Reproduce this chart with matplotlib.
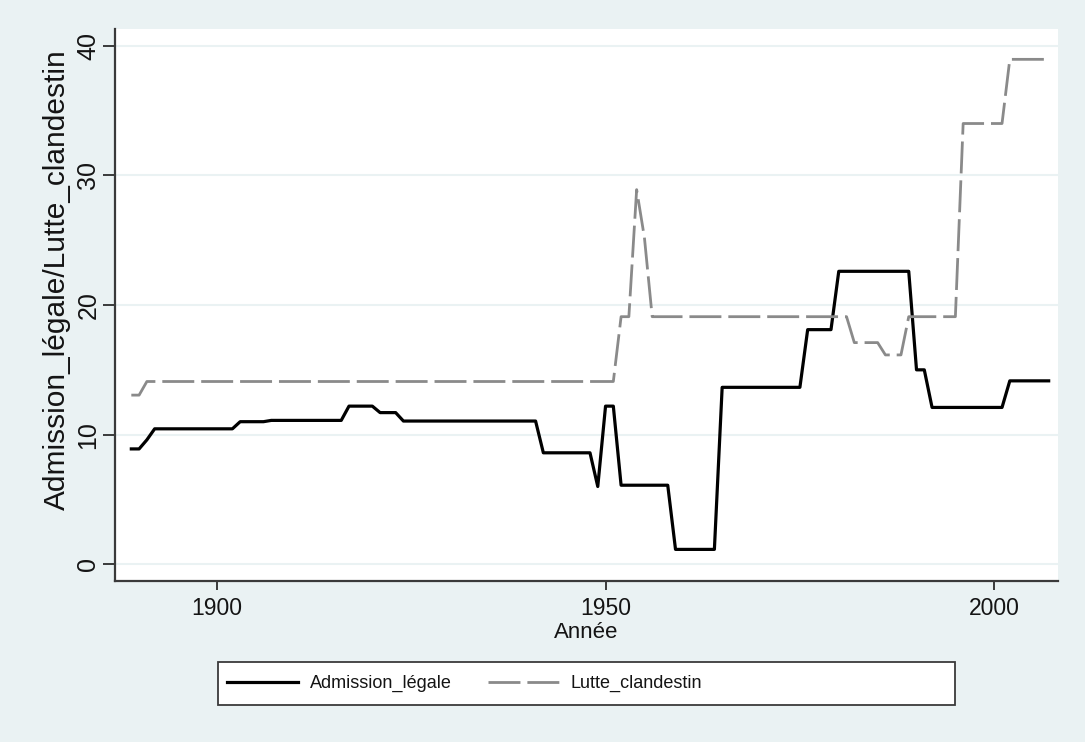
import matplotlib
matplotlib.use('Agg')
import matplotlib.pyplot as plt
from matplotlib.patches import Rectangle

years = list(range(1889, 2008))

admission_legale = [
    8.9, 8.9, 9.6, 10.45, 10.45, 10.45, 10.45, 10.45, 10.45, 10.45, 10.45,   # 1889-1899
    10.45, 10.45, 10.45, 11.0, 11.0, 11.0, 11.0, 11.1, 11.1, 11.1,            # 1900s
    11.1, 11.1, 11.1, 11.1, 11.1, 11.1, 11.1, 12.2, 12.2, 12.2,               # 1910s
    12.2, 11.7, 11.7, 11.7, 11.05, 11.05, 11.05, 11.05, 11.05, 11.05,         # 1920s
    11.05, 11.05, 11.05, 11.05, 11.05, 11.05, 11.05, 11.05, 11.05, 11.05,     # 1930s
    11.05, 11.05, 8.6, 8.6, 8.6, 8.6, 8.6, 8.6, 8.6, 6.0,                     # 1940s
    12.2, 12.2, 6.1, 6.1, 6.1, 6.1, 6.1, 6.1, 6.1, 1.15,                      # 1950s
    1.15, 1.15, 1.15, 1.15, 1.15, 13.65, 13.65, 13.65, 13.65, 13.65,          # 1960s
    13.65, 13.65, 13.65, 13.65, 13.65, 13.65, 18.1, 18.1, 18.1, 18.1,         # 1970s
    22.6, 22.6, 22.6, 22.6, 22.6, 22.6, 22.6, 22.6, 22.6, 22.6,               # 1980s
    15.0, 15.0, 12.1, 12.1, 12.1, 12.1, 12.1, 12.1, 12.1, 12.1,               # 1990s
    12.1, 12.1, 14.15, 14.15, 14.15, 14.15, 14.15, 14.15,                     # 2000-2007
]

lutte_clandestin = [
    13.05, 13.05, 14.1, 14.1, 14.1, 14.1, 14.1, 14.1, 14.1, 14.1, 14.1,       # 1889-1899
    14.1, 14.1, 14.1, 14.1, 14.1, 14.1, 14.1, 14.1, 14.1, 14.1,               # 1900s
    14.1, 14.1, 14.1, 14.1, 14.1, 14.1, 14.1, 14.1, 14.1, 14.1,               # 1910s
    14.1, 14.1, 14.1, 14.1, 14.1, 14.1, 14.1, 14.1, 14.1, 14.1,               # 1920s
    14.1, 14.1, 14.1, 14.1, 14.1, 14.1, 14.1, 14.1, 14.1, 14.1,               # 1930s
    14.1, 14.1, 14.1, 14.1, 14.1, 14.1, 14.1, 14.1, 14.1, 14.1,               # 1940s
    14.1, 14.1, 19.1, 19.1, 28.9, 25.2, 19.1, 19.1, 19.1, 19.1,               # 1950s
    19.1, 19.1, 19.1, 19.1, 19.1, 19.1, 19.1, 19.1, 19.1, 19.1,               # 1960s
    19.1, 19.1, 19.1, 19.1, 19.1, 19.1, 19.1, 19.1, 19.1, 19.1,               # 1970s
    19.1, 19.1, 17.1, 17.1, 17.1, 17.1, 16.15, 16.15, 16.15, 19.1,            # 1980s
    19.1, 19.1, 19.1, 19.1, 19.1, 19.1, 34.0, 34.0, 34.0, 34.0,               # 1990s
    34.0, 34.0, 38.95, 38.95, 38.95, 38.95, 38.95, 38.95,                     # 2000-2007
]

x_ticks = [1900, 1950, 2000]
y_ticks = [0, 10, 20, 30, 40]

bg = '#eaf2f3'
axis_col = '#3a3a3a'
txt_col = '#141414'

plt.rcParams['font.family'] = ['Liberation Sans', 'DejaVu Sans']

fig = plt.figure(figsize=(10.85, 7.42), dpi=100, facecolor=bg)
ax = fig.add_axes([115 / 1085, 1 - 580.7 / 742, 943 / 1085, 551.7 / 742])
ax.set_facecolor('white')

ax.plot(years, admission_legale, color='black', lw=2.3, label='Admission_légale', zorder=3)
ax.plot(years, lutte_clandestin, color='#8a8a8a', lw=2.0, dashes=(11.5, 2.5),
        label='Lutte_clandestin', zorder=3)

ax.set_xlim(1886.9, 2008.2)
ax.set_ylim(-1.265, 41.29)
ax.set_xticks(x_ticks)
ax.set_yticks(y_ticks)
ax.grid(axis='y', color=bg, lw=1.5, zorder=0)

for side in ['top', 'right']:
    ax.spines[side].set_visible(False)
for side in ['left', 'bottom']:
    ax.spines[side].set_color(axis_col)
    ax.spines[side].set_linewidth(1.6)

ax.tick_params(axis='x', length=6.5, width=1.4, color=axis_col, pad=5,
               labelsize=16.5, labelcolor=txt_col)
ax.tick_params(axis='y', length=8.5, width=1.4, color=axis_col, pad=2,
               labelsize=18, labelcolor=txt_col)
for lab in ax.get_yticklabels():
    lab.set_rotation(90)
    lab.set_va('center')

ax.set_xlabel('Année', fontsize=16, color=txt_col, va='center')
ax.xaxis.set_label_coords(0.5, (580.7 - 633) / 551.7)
ax.set_ylabel('Admission_légale/Lutte_clandestin', fontsize=21.5, color=txt_col,
              va='center')
ax.yaxis.set_label_coords((57 - 115) / 943, (580.7 - 279.7) / 551.7)

fig.add_artist(Rectangle((218 / 1085, 1 - 705 / 742), 737 / 1085, 43 / 742,
                         transform=fig.transFigure, facecolor='white',
                         edgecolor=axis_col, lw=1.3, zorder=1))
fs = 13
fs_px = fs * 100 / 72
fig.legend(loc='center left', bbox_to_anchor=(227 / 1085, 1 - 683.5 / 742),
           ncol=2, frameon=False, fontsize=fs, borderpad=0, borderaxespad=0,
           handlelength=71 / fs_px, handletextpad=12 / fs_px, columnspacing=36 / fs_px,
           labelcolor=txt_col)

fig.savefig('out.png', dpi=100, facecolor=bg)
